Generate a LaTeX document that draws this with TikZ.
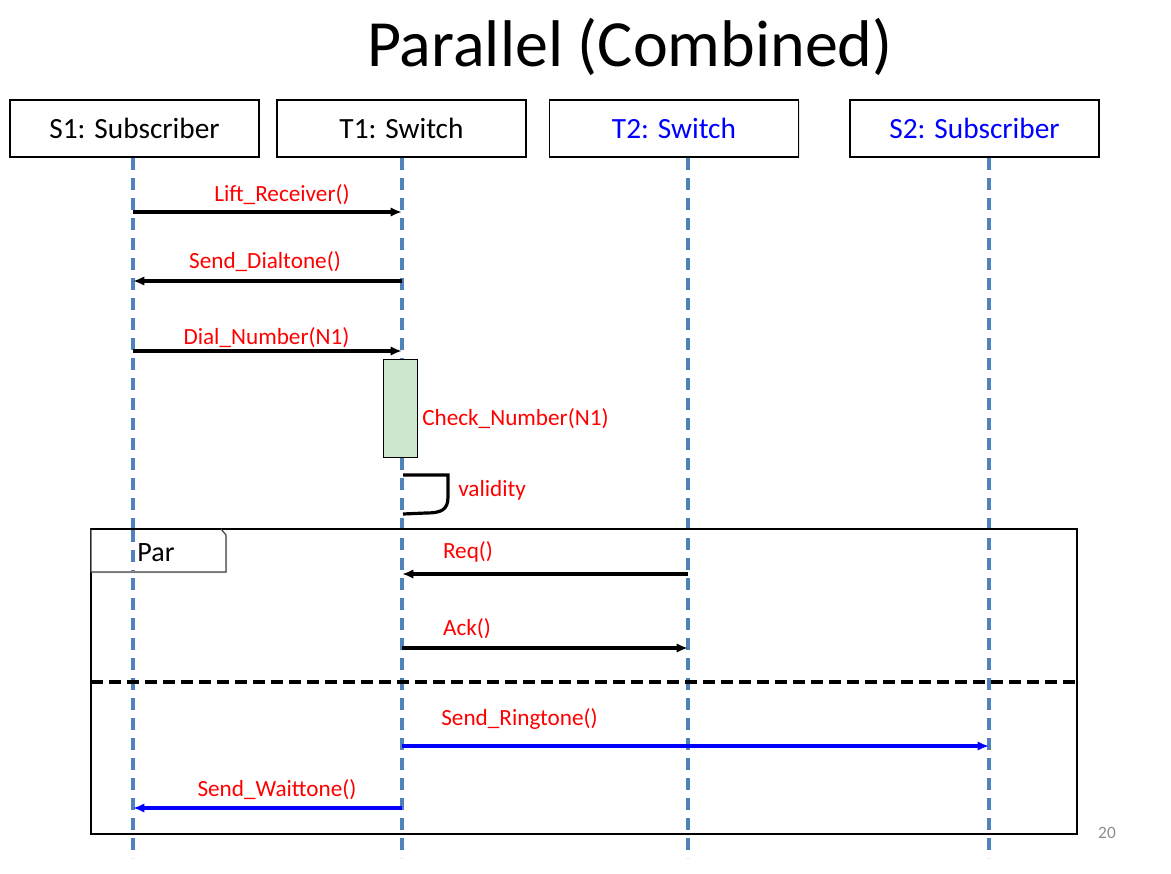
\documentclass[tikz,border=0pt]{standalone}
\usepackage{fontspec}
\setmainfont{Carlito}
\usetikzlibrary{shadows, arrows.meta}
\definecolor{lifeblue}{RGB}{79,129,189}
\definecolor{actgreen}{RGB}{205,231,206}
\definecolor{msgred}{RGB}{255,0,0}
\definecolor{pagegray}{RGB}{140,140,140}
\tikzset{
  head/.style={draw, line width=0.8pt, fill=white, minimum width=186.75pt,
    minimum height=42.75pt, font=\fontsize{22}{26}\selectfont,
    drop shadow={opacity=0.2, shadow xshift=1pt, shadow yshift=-1pt}},
  lifeline/.style={lifeblue, line width=2.6pt, dash pattern=on 9pt off 6pt},
  msg/.style={->, line width=2.3pt},
  bmsg/.style={->, line width=2.8pt, blue},
  lbl/.style={text=msgred, font=\fontsize{17.4}{20}\selectfont, inner sep=0pt},
}
\begin{document}
\begin{tikzpicture}[x=0.75pt, y=-0.75pt, >={Latex[length=8.5pt,width=7pt]}]
      \useasboundingbox (0,0) rectangle (1171,874);
      \node[font=\fontsize{49.5}{56}\selectfont] (title) at (630,47) {Parallel (Combined)};
      % objects
      \node[head] (s1head) at (134.5,128.5) {S1: Subscriber};
      \node[head] (t1head) at (401.5,128.5) {T1: Switch};
      \node[head, text=blue] (t2head) at (674,128.5) {T2: Switch};
      \node[head, text=blue] (s2head) at (974.5,128.5) {S2: Subscriber};
      % lifelines
      \foreach \n/\x in {s1/133, t1/402, t2/688, s2/989} {
        \coordinate (\n-top) at (\x,158);
        \coordinate (\n-bot) at (\x,858);
        \draw[lifeline] (\n-top) -- (\n-bot);
      }
      % par frame
      \draw[line width=0.9pt] (91,529) rectangle (1077,834);
      \draw[line width=0.9pt, draw=black!75, fill=white, drop shadow={opacity=0.2, shadow xshift=1pt, shadow yshift=-1pt}]
        (91,529) -- (221,529) -- (226,535) -- (226,572) -- (91,572) -- cycle;
      \draw[line width=0.9pt] (91,529) -- (221,529);
      \draw[lifeline] (s1-top |- 0,530) -- (s1-top |- 0,571);
      \node[font=\fontsize{21}{25}\selectfont] (par) at (156,553) {Par};
      \draw[line width=2.3pt, dash pattern=on 9pt off 4.5pt] (91,682) -- (1077,682);
      % message rows
      \coordinate (y1) at (0,212);
      \coordinate (y2) at (0,281);
      \coordinate (y3) at (0,351);
      \coordinate (y4) at (0,574);
      \coordinate (y5) at (0,648);
      \coordinate (y6) at (0,746);
      \coordinate (y7) at (0,808);
      \draw[msg] (s1-top |- y1) -- (t1-top |- y1);
      \node[lbl] (m1) at (282,195) {Lift\_Receiver()};
      \draw[msg] (t1-top |- y2) -- (s1-top |- y2);
      \node[lbl] (m2) at (265,262) {Send\_Dialtone()};
      \draw[msg] (s1-top |- y3) -- (t1-top |- y3);
      \node[lbl] (m3) at (266.5,338) {Dial\_Number(N1)};
      % activation
      \node[draw, line width=0.6pt, fill=actgreen, minimum width=25.5pt, minimum height=73.5pt, inner sep=0pt] (act) at (400,408) {};
      \node[lbl, anchor=west] (m4) at (422,419) {Check\_Number(N1)};
      % self call
      \coordinate (loopa) at (403,475);
      \coordinate (loopb) at (403,514);
      \draw[line width=2.4pt] (loopa) -- (448,475) -- (448,497) .. controls (448,510) and (441,513) .. (426,513) -- (loopb);
      \node[lbl, anchor=west] (m5) at (458,490) {validity};
      \draw[msg] (t2-top |- y4) -- (t1-top |- y4);
      \node[lbl] (m6) at (468,552) {Req()};
      \draw[msg] (t1-top |- y5) -- (t2-top |- y5);
      \node[lbl] (m7) at (467,629) {Ack()};
      \draw[bmsg] (t1-top |- y6) -- (s2-top |- y6);
      \node[lbl] (m8) at (519.5,719) {Send\_Ringtone()};
      \draw[bmsg] (t1-top |- y7) -- (s1-top |- y7);
      \node[lbl] (m9) at (277,790) {Send\_Waittone()};
      \node[text=pagegray, font=\fontsize{13}{15}\selectfont] (pagenum) at (1107,833) {20};
\end{tikzpicture}
\end{document}
